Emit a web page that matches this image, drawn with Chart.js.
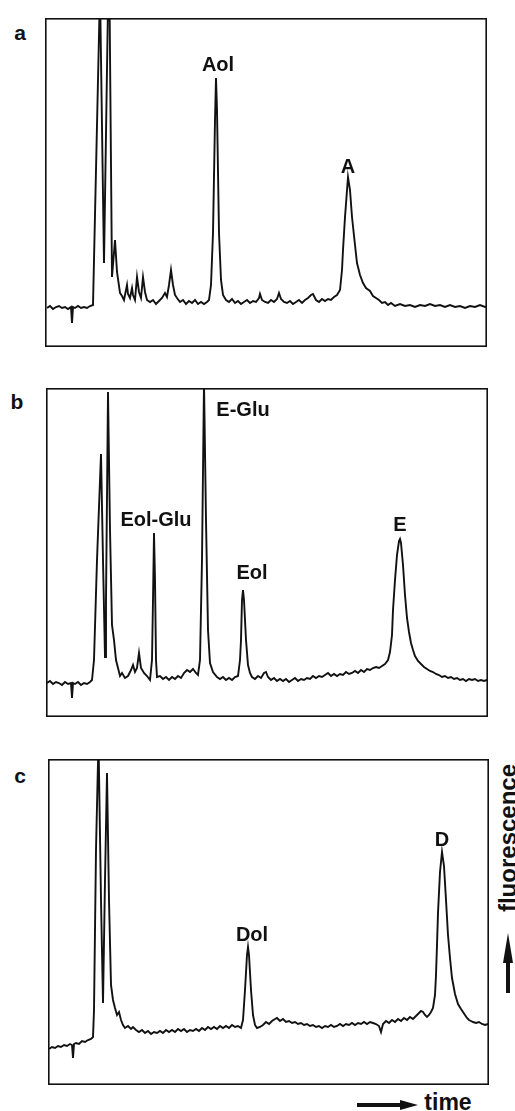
<!DOCTYPE html>
<html>
<head>
<meta charset="utf-8">
<script src="https://cdn.jsdelivr.net/npm/chart.js@4"></script>
<style>
  body { margin: 0; background: #fff; }
  #page { position: relative; width: 515px; height: 1111px; overflow: hidden; }
  canvas { position: absolute; }
  .txt { position: absolute; font: bold 21px "Liberation Sans", Arial, sans-serif; color: #111; white-space: nowrap; transform: translate(-50%, -50%); }
  .big { font-size: 23px; }
  .blk { position: absolute; background: #111; }
</style>
</head>
<body>
<div id="page">
  <canvas id="panelA" width="442" height="329" style="left:45px;top:18px"></canvas>
  <canvas id="panelB" width="442" height="329" style="left:46px;top:388px"></canvas>
  <canvas id="panelC" width="441" height="326" style="left:48px;top:759px"></canvas>

  <div class="txt" style="left:20px;top:33px">a</div>
  <div class="txt" style="left:17px;top:402px">b</div>
  <div class="txt" style="left:20px;top:776px">c</div>

  <!-- time arrow -->
  <div class="blk" style="left:357px;top:1103px;width:45px;height:4px"></div>
  <div style="position:absolute;left:400px;top:1100px;width:0;height:0;border-left:18px solid #111;border-top:5px solid transparent;border-bottom:5px solid transparent"></div>
  <div class="txt big" style="left:448px;top:1102px">time</div>

  <!-- fluorescence arrow -->
  <div class="txt big" style="left:508px;top:838px;font-size:24px;transform:translate(-50%,-50%) rotate(-90deg)">fluorescence</div>
  <div style="position:absolute;left:503px;top:933px;width:0;height:0;border-bottom:30px solid #111;border-left:5px solid transparent;border-right:5px solid transparent"></div>
  <div class="blk" style="left:506px;top:962px;width:4px;height:31px"></div>
</div>

<script>
// panel a: retention time (arb. units) and fluorescence signal
const timeA = [2,5,8,11,14,17,20,23,26,27,28,30,33,36,39,42,45,48,55,59,64,67,70,72,75,77,79,81,82,83,85,87,88,90,92,94,96,98,100,102,105,108,111,114,117,120,122,124,126,128,130,132,135,138,141,144,147,150,153,156,159,162,164,166,168,170,171,172,174,176,178,181,184,187,190,193,196,199,202,205,208,211,214,215,217,220,223,226,229,232,234,236,239,242,245,248,251,254,257,260,263,266,268,271,274,277,280,283,286,289,292,295,297,298,300,303,305,307,310,312,315,318,321,325,328,331,334,337,340,343,346,350,355,360,365,370,375,380,385,390,395,400,405,410,415,420,425,430,435,440,442]
const signalA = [39,41,38,40,41,39,40,38,40,24,40,39,41,39,40,39,41,42,357,84,407,70,107,75,54,51,47,57,62,53,49,59,52,47,70,55,49,70,55,47,45,47,43,46,49,54,50,62,77,62,52,49,45,47,43,46,44,47,43,45,43,45,47,62,114,227,269,237,114,67,52,47,45,48,44,46,43,45,47,44,46,45,49,53,47,45,44,47,45,48,54,48,45,44,46,43,45,47,44,47,49,52,53,47,45,48,46,48,47,50,52,57,77,97,130,170,157,130,102,84,72,64,59,56,51,49,47,44,45,42,44,41,43,41,42,40,42,41,43,41,42,40,42,40,41,39,41,40,42,40,41]
const tagsA = ['Aol', 'A']
const tagTimesA = [173, 303]
const tagLevelsA = [282, 180]

// panel b
const timeB = [1,4,7,10,13,16,19,22,25,26,27,29,32,35,38,41,44,46,48,51,55,57,59,60,62,64,66,68,70,72,74,76,79,82,85,87,89,91,93,95,98,101,104,106,107,108,109,110,111,114,117,120,123,126,129,132,135,138,141,144,147,150,152,154,156,158,160,162,164,167,171,174,177,180,183,186,189,192,194,195,196,197,198,200,202,204,206,209,212,215,218,220,222,225,228,231,234,237,240,243,246,249,252,255,258,261,264,267,270,273,276,279,282,285,288,291,294,297,300,303,306,309,312,315,318,321,324,327,330,333,336,339,342,344,346,347,349,351,353,354,355,357,359,361,363,365,367,369,372,375,378,381,384,387,390,393,396,399,402,405,408,411,414,417,420,423,426,429,432,435,438,441]
const signalB = [34,36,33,35,34,32,35,33,34,19,34,33,35,32,34,33,35,37,57,157,263,157,60,117,325,187,92,77,57,49,41,44,39,41,47,52,45,49,64,49,44,41,37,57,117,184,137,57,40,41,38,40,37,40,38,41,39,44,47,45,48,44,42,57,157,335,197,87,54,45,40,38,40,37,39,37,40,41,57,77,117,127,117,77,52,44,40,38,41,39,44,45,40,37,39,36,38,36,38,35,37,39,36,38,37,39,38,41,39,41,40,42,44,41,43,41,43,42,45,43,44,46,44,47,45,48,47,49,50,49,51,53,57,65,82,107,137,162,176,178,174,152,122,99,85,74,67,61,56,53,50,48,46,45,43,42,40,41,39,40,38,39,37,38,36,38,37,38,36,37,36,37]
const tagsB = ['Eol-Glu', 'E-Glu', 'Eol', 'E']
const tagTimesB = [110, 197, 206, 354]
const tagLevelsB = [197, 307, 144, 192]

// panel c
const timeC = [1,4,7,10,13,16,19,22,24,25,26,28,31,34,37,40,43,45,46,48,50.5,53,55,57,59,61,63,65,67,69,71,73,75,77,80,83,85,88,91,94,97,100,103,106,109,112,115,118,121,124,127,130,133,136,139,142,145,148,151,154,157,160,163,166,169,172,175,178,181,184,187,190,193,195,197,199,200,201,203,205,207,209,212,215,218,221,224,227,229,232,235,238,241,244,247,250,253,256,259,262,265,268,271,274,277,280,283,286,289,292,295,298,301,304,307,310,313,316,319,322,325,328,331,333,335,338,341,344,347,350,353,356,359,362,365,368,371,373,375,377,379,381,383,385,387,388,389,390,392,394,396,398,400,402,404,407,410,413,415,417,419,421,423,425,428,431,434,437,440]
const signalC = [36,38,37,39,38,40,39,41,40,27,41,42,41,44,43,45,46,48,75,235,345,185,82,205,312,185,100,85,77,70,73,65,60,57,59,56,58,55,53,55,52,54,51,53,52,54,52,55,53,55,53,56,54,56,53,55,54,56,54,57,55,58,56,58,56,59,57,59,57,60,58,59,57,65,95,130,138,130,95,70,60,57,58,60,63,61,64,66,67,64,66,63,64,62,63,61,62,60,61,59,60,58,59,57,59,58,60,58,59,61,59,61,60,62,60,62,61,63,61,63,62,61,59,53,61,64,62,65,63,66,64,67,65,68,66,69,72,74,73,70,68,70,73,77,90,110,140,172,213,233,219,185,150,127,107,91,81,76,73,70,67,65,64,63,62,63,61,60,61]
const tagsC = ['Dol', 'D']
const tagTimesC = [204, 394]
const tagLevelsC = [150, 245]

const INK = '#111'

const frame = {
  id: 'frame',
  afterDraw(chart) {
    const { ctx, chartArea: a } = chart
    ctx.save()
    ctx.strokeStyle = INK
    ctx.lineWidth = 1.6
    ctx.strokeRect(a.left + 0.8, a.top + 0.8, a.right - a.left - 1.6, a.bottom - a.top - 1.6)
    ctx.restore()
  }
}

function peakTags(tags, times, levels) {
  return {
    id: 'peakTags',
    afterDatasetsDraw(chart) {
      const { ctx, scales } = chart
      ctx.save()
      ctx.fillStyle = INK
      ctx.font = 'bold 20px "Liberation Sans", Arial, sans-serif'
      ctx.textAlign = 'center'
      ctx.textBaseline = 'middle'
      tags.forEach((t, i) => {
        ctx.fillText(t, scales.x.getPixelForValue(times[i]), scales.y.getPixelForValue(levels[i]))
      })
      ctx.restore()
    }
  }
}

function drawPanel(id, times, signals, xMax, yMax, tags, tagTimes, tagLevels) {
  const canvas = document.getElementById(id)
  return new Chart(canvas, {
    type: 'line',
    data: {
      datasets: [{
        data: times.map((t, i) => ({ x: t, y: signals[i] })),
        borderColor: INK,
        borderWidth: 1.9,
        pointRadius: 0,
        tension: 0,
        fill: false
      }]
    },
    options: {
      responsive: false,
      animation: false,
      events: [],
      layout: { padding: 0 },
      plugins: { legend: { display: false }, tooltip: { enabled: false } },
      scales: {
        x: { type: 'linear', min: 0, max: xMax, display: false },
        y: { min: 0, max: yMax, display: false }
      }
    },
    plugins: [frame, peakTags(tags, tagTimes, tagLevels)]
  })
}

drawPanel('panelA', timeA, signalA, 442, 329, tagsA, tagTimesA, tagLevelsA)
drawPanel('panelB', timeB, signalB, 442, 329, tagsB, tagTimesB, tagLevelsB)
drawPanel('panelC', timeC, signalC, 441, 326, tagsC, tagTimesC, tagLevelsC)
</script>
</body>
</html>
